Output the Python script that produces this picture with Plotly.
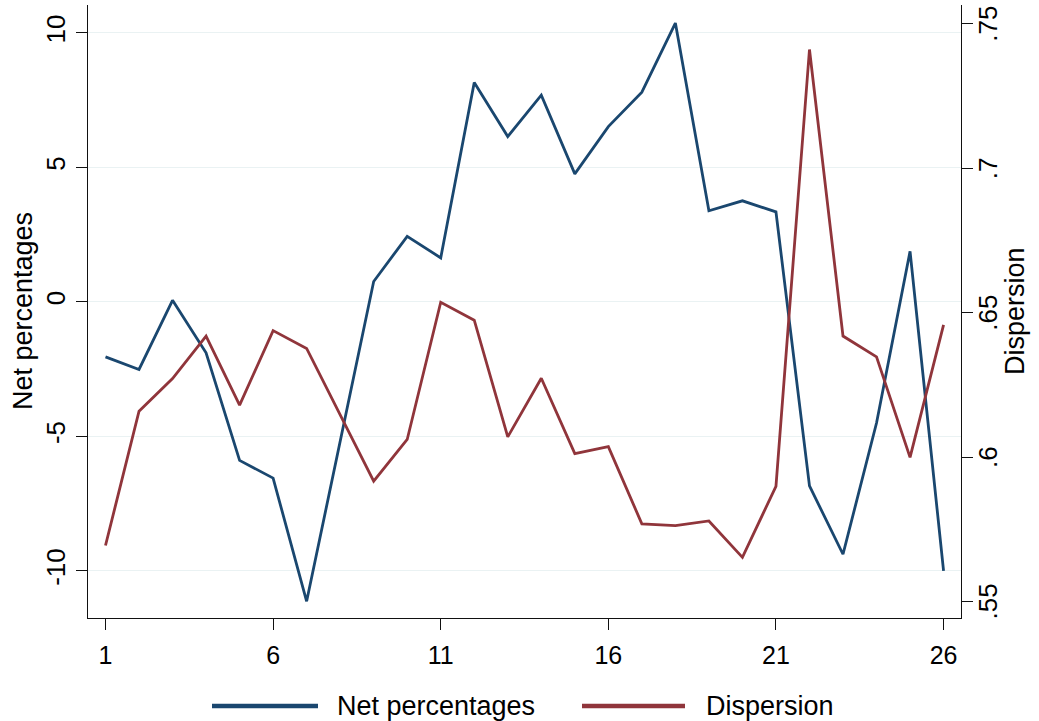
import plotly.graph_objects as go

# Period index on the horizontal axis
periods = list(range(1, 27))

# Net percentages (left axis)
net_pct = [-2.04, -2.51, 0.06, -1.89, -5.89, -6.55, -11.13, -5.2, 0.76, 2.44,
           1.64, 8.16, 6.15, 7.69, 4.76, 6.52, 7.80, 10.37, 3.39, 3.76,
           3.35, -6.84, -9.38, -4.5, 1.88, -10.0]

# Dispersion (right axis)
dispersion = [0.5694, 0.6159, 0.6272, 0.6419, 0.6180, 0.6438, 0.6376, 0.6146,
              0.5917, 0.6061, 0.6536, 0.6474, 0.6070, 0.6273, 0.6012, 0.6036,
              0.5769, 0.5763, 0.5779, 0.5653, 0.5899, 0.7411, 0.6419, 0.6347,
              0.5999, 0.6458]

x_ticks = [1, 6, 11, 16, 21, 26]
left_ticks = [-10, -5, 0, 5, 10]
left_labels = ["-10", "-5", "0", "5", "10"]
right_ticks = [0.55, 0.60, 0.65, 0.70, 0.75]
right_labels = [".55", ".6", ".65", ".7", ".75"]

series_names = ["Net percentages", "Dispersion"]
NAVY = "#1a476f"
MAROON = "#90353b"
FONT = "Liberation Sans, Arial, sans-serif"

W, H = 1039, 721
ML, MR, MT, MB = 88, 78, 5, 103
PW, PH = W - ML - MR, H - MT - MB

fig = go.Figure()
fig.add_trace(go.Scatter(x=periods, y=net_pct, mode="lines", name=series_names[0],
                         line=dict(color=NAVY, width=2.8), showlegend=False))
fig.add_trace(go.Scatter(x=periods, y=dispersion, mode="lines", name=series_names[1],
                         line=dict(color=MAROON, width=2.8), yaxis="y2",
                         showlegend=False))

axis_line = dict(showline=True, linecolor="#111111", linewidth=1.4,
                 ticks="outside", ticklen=11, tickwidth=1.4, tickcolor="#111111",
                 zeroline=False)

fig.update_layout(
    width=W, height=H,
    margin=dict(l=ML, r=MR, t=MT, b=MB, autoexpand=False),
    paper_bgcolor="white", plot_bgcolor="white",
    font=dict(family=FONT, color="black", size=25),
    xaxis=dict(range=[0.478, 26.52], tickvals=x_ticks,
               ticktext=[str(t) for t in x_ticks], showgrid=False,
               tickfont=dict(size=25), ticklabelstandoff=4, **axis_line),
    yaxis=dict(range=[-11.75, 11.04], tickvals=left_ticks, ticktext=left_labels,
               tickangle=-90, showgrid=True, gridcolor="#eaf2f3", gridwidth=1.2,
               tickfont=dict(size=26), **axis_line),
    yaxis2=dict(range=[0.5443, 0.7565], tickvals=right_ticks,
                overlaying="y", side="right", showgrid=False,
                showticklabels=False, **axis_line),
)

def px_x(p):
    return (p - ML) / PW

def px_y(p):
    return (H - MB - p) / PH

# Right-axis tick labels, rotated, placed at the tick values on y2
for val, label in zip(right_ticks, right_labels):
    fig.add_annotation(xref="paper", yref="y2", x=px_x(988), y=val,
                       text=label, textangle=-90, showarrow=False,
                       xanchor="center", yanchor="middle",
                       font=dict(size=26, color="black", family=FONT))

# Axis titles, rotated to read bottom-to-top
for xc, label in [(23, series_names[0]), (1015, series_names[1])]:
    fig.add_annotation(xref="paper", yref="paper", x=px_x(xc), y=px_y(311),
                       text=label, textangle=-90, showarrow=False,
                       xanchor="center", yanchor="middle",
                       font=dict(size=27, color="black", family=FONT))

# Legend drawn below the plot: long key lines followed by labels
legend_y = 706
keys = [(212, 318, 335, NAVY, series_names[0]),
        (582, 685, 704, MAROON, series_names[1])]
for x0, x1, xt, col, label in keys:
    fig.add_shape(type="line", xref="paper", yref="paper",
                  x0=px_x(x0), x1=px_x(x1), y0=px_y(legend_y), y1=px_y(legend_y),
                  line=dict(color=col, width=4.5))
    fig.add_annotation(xref="paper", yref="paper", x=px_x(xt), y=px_y(legend_y),
                       text=label, showarrow=False, xanchor="left", yanchor="middle",
                       font=dict(size=27, color="black", family=FONT))

fig.write_html("out.html")
